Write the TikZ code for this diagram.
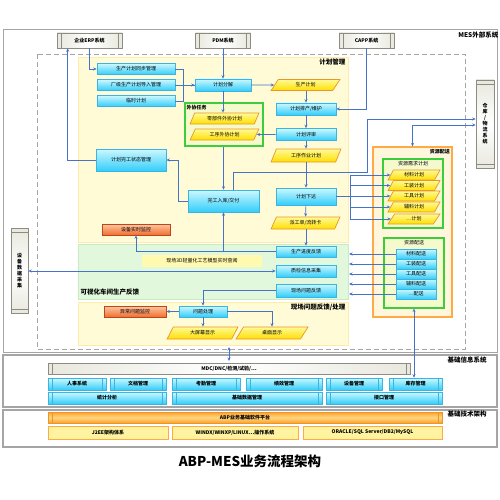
\documentclass[tikz,border=0pt]{standalone}
\usepackage{fontspec}
\setmainfont{Noto Sans CJK SC}
\usetikzlibrary{arrows.meta,shapes.geometric}
\definecolor{cyT}{RGB}{205,248,255}
\definecolor{cyB}{RGB}{50,205,250}
\definecolor{cyD}{RGB}{60,180,225}
\definecolor{ylT}{RGB}{255,250,150}
\definecolor{ylB}{RGB}{255,222,0}
\definecolor{orD}{RGB}{235,150,40}
\definecolor{ogT}{RGB}{255,200,160}
\definecolor{ogB}{RGB}{240,110,50}
\definecolor{ogD}{RGB}{190,70,30}
\definecolor{areaY}{RGB}{255,251,215}
\definecolor{areaYD}{RGB}{255,235,170}
\definecolor{areaG}{RGB}{226,248,220}
\definecolor{areaGD}{RGB}{200,235,195}
\definecolor{grn}{RGB}{60,205,60}
\definecolor{fY}{RGB}{245,250,205}
\definecolor{org}{RGB}{255,170,70}
\definecolor{fO}{RGB}{255,246,220}
\definecolor{arrc}{RGB}{70,115,200}
\definecolor{frm}{RGB}{165,165,165}
\definecolor{gryT}{RGB}{232,232,222}
\definecolor{gryD}{RGB}{140,140,130}
\definecolor{notec}{RGB}{255,250,175}
\definecolor{abpT}{RGB}{255,215,130}
\definecolor{abpB}{RGB}{255,160,40}
\definecolor{lyel}{RGB}{255,243,160}
\tikzset{
  txt/.style={font=\fontsize{5}{6}\selectfont},
  btxt/.style={font=\fontsize{5}{6}\selectfont\bfseries},
  cbox/.style={draw=cyD, line width=0.6pt, top color=cyT, bottom color=cyB, inner sep=0pt, txt},
  para/.style={trapezium, trapezium left angle=60, trapezium right angle=120, trapezium stretches=true,
    draw=orD, line width=0.7pt, top color=ylT, bottom color=ylB, inner sep=0pt, txt},
  obox/.style={draw=ogD, line width=0.7pt, top color=ogT, bottom color=ogB, inner sep=0pt, txt},
  hbars/.style={path picture={\draw[#1,line width=0.5pt]
     ([xshift=4pt]path picture bounding box.south west) -- ([xshift=4pt]path picture bounding box.north west)
     ([xshift=-4pt]path picture bounding box.south east) -- ([xshift=-4pt]path picture bounding box.north east);}},
  vbars/.style={path picture={\draw[#1,line width=0.5pt]
     ([yshift=4pt]path picture bounding box.south west) -- ([yshift=4pt]path picture bounding box.south east)
     ([yshift=-4pt]path picture bounding box.north west) -- ([yshift=-4pt]path picture bounding box.north east);}},
  ext/.style={draw=gryD, line width=0.6pt, shading=axis, left color=gryT, right color=gryT, middle color=white, inner sep=0pt, btxt, hbars=gryD},
  vext/.style={draw=gryD, line width=0.6pt, shading=axis, top color=gryT, bottom color=gryT, middle color=white, inner sep=0pt, btxt, vbars=gryD, align=center},
  bcy/.style={draw=cyD, line width=0.5pt, top color=cyT, bottom color=cyB, inner sep=0pt, btxt, hbars=cyD},
  yarea/.style={draw=areaYD, fill=areaY, line width=0.8pt, inner sep=0pt},
  garea/.style={draw=areaGD, fill=areaG, line width=0.8pt, inner sep=0pt},
  gframe/.style={draw=grn, fill=fY, line width=1.2pt, inner sep=0pt},
  oframe/.style={draw=org, fill=fO, line width=1.2pt, inner sep=0pt},
  lbl/.style={font=\fontsize{6.5}{7}\selectfont\bfseries, inner sep=0.5pt},
  arr/.style={draw=arrc, line width=0.6pt, -{Stealth[length=3.5pt,width=3pt]}},
  arr2/.style={draw=arrc, line width=0.6pt, {Stealth[length=3.5pt,width=3pt]}-{Stealth[length=3.5pt,width=3pt]}},
  ln/.style={draw=arrc, line width=0.6pt}
}
\begin{document}
\begin{tikzpicture}[x=1pt,y=-1pt]
\useasboundingbox (0,0) rectangle (500,500);
\fill[white] (0,0) rectangle (500,500);
% outer frames
\draw[frm, line width=0.8pt] (3,29) rectangle (497,352);
\draw[frm, line width=0.8pt, dashed, dash pattern=on 5pt off 3pt] (37,54) rectangle (465,349);
\node[lbl, anchor=east] (lmes) at (499,35) {MES外部系统};
% areas
\node[yarea, minimum width=270pt, minimum height=185pt] (planarea) at (213,149.5) {};
\node[garea, minimum width=270pt, minimum height=55pt] (visarea) at (213,271.5) {};
\node[yarea, minimum width=270pt, minimum height=43pt] (probarea) at (213,323.5) {};
\node[lbl, anchor=east] (lplan) at (346,62.5) {计划管理};
\node[lbl, anchor=west] (lvis) at (80,292) {可视化车间生产反馈};
\node[lbl, anchor=east] (lprob) at (346,307) {现场问题反馈/处理};
\node[gframe, minimum width=78pt, minimum height=43pt] (outframe) at (224,124.5) {};
\node[btxt, anchor=west, inner sep=0pt] (lout) at (186.5,107.5) {外协任务};
\node[oframe, minimum width=79pt, minimum height=170pt] (resframe) at (412.5,232) {};
\node[btxt, anchor=east, inner sep=0pt] (lres) at (450,152) {资源配送};
\node[gframe, minimum width=60pt, minimum height=69pt] (rpframe) at (413,193.5) {};
\node[txt, inner sep=0pt] (lrp) at (413,164) {资源需求计划};
\node[gframe, minimum width=60pt, minimum height=70pt] (rdframe) at (414,273) {};
\node[txt, inner sep=0pt] (lrd) at (414,243) {资源配送};
% external systems
\node[ext, minimum width=65pt, minimum height=15pt] (erp) at (89.5,40.5) {企业ERP系统};
\node[ext, minimum width=55pt, minimum height=15pt] (pdm) at (223,40.5) {PDM系统};
\node[ext, minimum width=55pt, minimum height=15pt] (capp) at (366.5,40.5) {CAPP系统};
\node[vext, minimum width=18pt, minimum height=88pt] (whs) at (485,124) {仓\\库\\/\\物\\流\\系\\统};
\node[vext, minimum width=17pt, minimum height=85pt] (dev) at (19.5,271) {设\\备\\数\\据\\采\\集};
% plan management
\node[cbox, minimum width=78pt, minimum height=11pt] (sync) at (136,69) {生产计划同步管理};
\node[cbox, minimum width=78pt, minimum height=11pt] (imp) at (136,85) {厂级生产计划导入管理};
\node[cbox, minimum width=78pt, minimum height=11pt] (tmp) at (136,101) {临时计划};
\node[cbox, minimum width=56pt, minimum height=12pt] (split) at (223,85) {计划分解};
\node[para, minimum width=69pt, minimum height=11pt] (pplan) at (305.5,85) {生产计划};
\node[cbox, minimum width=60pt, minimum height=12pt] (sched) at (306,109) {计划排产/维护};
\node[cbox, minimum width=60pt, minimum height=12pt] (review) at (306,134.5) {计划评审};
\node[para, minimum width=69pt, minimum height=11pt] (outA) at (224.5,118.5) {零部件外协计划};
\node[para, minimum width=69pt, minimum height=11pt] (outB) at (224.5,134.5) {工序外协计划};
\node[para, minimum width=70pt, minimum height=13pt] (opplan) at (306,155.5) {工序作业计划};
\node[cbox, minimum width=70pt, minimum height=22pt] (status) at (131,160) {计划完工状态管理};
\node[cbox, minimum width=71pt, minimum height=22pt] (store) at (223.5,201) {完工入库/交付};
\node[cbox, minimum width=60pt, minimum height=17pt] (issue) at (306,196.5) {计划下达};
\node[para, minimum width=69pt, minimum height=12pt] (dispatch) at (305.5,223) {派工单/流转卡};
\node[obox, minimum width=68pt, minimum height=11pt] (mon) at (136,229.5) {设备实时监控};
% resource plans
\node[para, minimum width=52pt, minimum height=10pt] (rp1) at (414,175) {材料计划};
\node[para, minimum width=52pt, minimum height=10pt] (rp2) at (414,185.5) {工装计划};
\node[para, minimum width=52pt, minimum height=10pt] (rp3) at (414,196) {工具计划};
\node[para, minimum width=52pt, minimum height=10pt] (rp4) at (414,207) {辅料计划};
\node[para, minimum width=52pt, minimum height=10pt] (rp5) at (414,219) {…计划};
\node[cbox, minimum width=40pt, minimum height=10pt] (rd1) at (416,254) {材料配送};
\node[cbox, minimum width=40pt, minimum height=10pt] (rd2) at (416,264) {工装配送};
\node[cbox, minimum width=40pt, minimum height=10pt] (rd3) at (416,274) {工具配送};
\node[cbox, minimum width=40pt, minimum height=10pt] (rd4) at (416,284) {辅料配送};
\node[cbox, minimum width=40pt, minimum height=10pt] (rd5) at (416,294) {…配送};
% visual feedback
\node[fill=notec, txt, minimum width=120pt, minimum height=12pt, inner sep=0pt] (note3d) at (202,261) {现场3D轻量化工艺模型实时查阅};
\node[cbox, minimum width=60pt, minimum height=11pt] (prog) at (306,251.5) {生产进度反馈};
\node[cbox, minimum width=60pt, minimum height=12pt] (qc) at (306,271) {质检信息采集};
\node[cbox, minimum width=60pt, minimum height=13pt] (fb) at (306,290.5) {现场问题反馈};
% problem handling
\node[obox, minimum width=62pt, minimum height=11pt] (warn) at (135,311.5) {异常问题监控};
\node[cbox, minimum width=48pt, minimum height=11pt] (handle) at (203,311.5) {问题处理};
\node[para, minimum width=71pt, minimum height=12pt] (big) at (202.5,333) {大屏幕显示};
\node[para, minimum width=72pt, minimum height=12pt] (desk) at (272,333) {桌面显示};
% bottom frames
\draw[frm, line width=1.2pt] (3,355) rectangle (497,407);
\draw[frm, line width=1.2pt] (3,410) rectangle (497,447);
\node[lbl, anchor=west] (linfo) at (447,360) {基础信息系统};
\node[lbl, anchor=west] (ltech) at (447,414) {基础技术架构};
\node[ext, minimum width=362pt, minimum height=11pt] (mdc) at (229,368.5) {MDC/DNC/检测/试验/…};
\node[bcy, minimum width=58pt, minimum height=12pt] (hr) at (77,384) {人事系统};
\node[bcy, minimum width=56pt, minimum height=12pt] (doc) at (138,384) {文档管理};
\node[bcy, minimum width=68pt, minimum height=12pt] (att) at (206,384) {考勤管理};
\node[bcy, minimum width=76pt, minimum height=12pt] (perf) at (284,384) {绩效管理};
\node[bcy, minimum width=56pt, minimum height=12pt] (eq) at (354,384) {设备管理};
\node[bcy, minimum width=53pt, minimum height=12pt] (kc) at (415.5,384) {库存管理};
\node[bcy, minimum width=118pt, minimum height=12pt] (stat) at (107,398) {统计分析};
\node[bcy, minimum width=150pt, minimum height=12pt] (basic) at (247,398) {基础数据管理};
\node[bcy, minimum width=116pt, minimum height=12pt] (intf) at (384,398) {接口管理};
\node[draw=orD, line width=0.5pt, top color=abpB, bottom color=abpB, middle color=abpT, shading=axis, inner sep=0pt, btxt, hbars=orD, minimum width=394pt, minimum height=11pt] (abp) at (245,417.5) {ABP业务基础软件平台};
\node[draw=org, line width=0.8pt, fill=lyel, btxt, inner sep=0pt, minimum width=120pt, minimum height=13pt] (j2ee) at (108,432.5) {J2EE架构体系};
\node[draw=org, line width=0.8pt, fill=lyel, btxt, inner sep=0pt, minimum width=126pt, minimum height=13pt] (os) at (235,432.5) {WINDX/WINXP/LINUX…操作系统};
\node[draw=org, line width=0.8pt, fill=lyel, btxt, inner sep=0pt, minimum width=139pt, minimum height=13pt] (db) at (372.5,432.5) {ORACLE/SQL Server/DB2/MySQL};
\node[font=\fontsize{13.5}{15}\selectfont\bfseries, inner sep=0pt] (title) at (250,461) {ABP-MES业务流程架构};
% connectors
\coordinate (gr) at (349,0);
\coordinate (bA) at (229,347);
\coordinate (bB) at (229,361);
\draw[arr] (erp.south) |- (sync.west);
\draw[arr] (status.west) -| ([xshift=11pt]erp.south west);
\draw[ln] (sync.east) -- ++(8,0) |- (split.west);
\draw[ln] (tmp.east) -- ++(8,0) |- (split.west);
\draw[arr] (imp.east) -- (split.west);
\draw[arr] (pdm.south) -- (split.north);
\draw[arr] (split.east) -- (pplan.west);
\draw[arr] (split.south) -- (split.south |- outA.north);
\draw[arr] (pplan.south -| sched.north) -- (sched.north);
\draw[arr] (capp.south) |- (sched.east);
\draw[arr] (sched) -- (review);
\draw[arr] (review.west) -- (outB.east);
\draw[arr] (review.south) -- (review.south |- opplan.north);
\draw[arr] (opplan.south -| issue.north) -- (issue.north);
\draw[arr] ([xshift=10pt]store.north) |- (367,172) |- ([yshift=5pt]whs.west);
\draw[arr2] ([yshift=-1pt]whs.west) -| (resframe.north);
\draw[arr] (outframe.south -| store.north) -- (store.north);
\draw[arr] (store.west) -- ++(-9,0) |- (status.east);
\draw[arr] (issue) -- (dispatch);
\draw[arr] (dispatch.south -| prog.north) -- (prog.north);
\draw[ln, line width=1pt] (issue.east) -- ++(14,0);
\foreach \r in {rp1,rp2,rp3,rp4,rp5}{\draw[arr] (issue.east) -- ++(14,0) |- (\r.west);}
\draw[arr] (prog.west) -| (mon.south);
\draw[arr] (prog.west -| store.south) -- (store.south);
\draw[arr2] (dev.east) -- (dev.east -| qc.west);
\draw[arr] (fb.west) -| (handle.north);
\draw[arr] (handle.west) -- (warn.east);
\draw[arr] (handle.south) -- (handle.south |- big.north);
\draw[arr] (handle.east) -| (desk.north);
\foreach \r in {rd1,rd2,rd3,rd4,rd5}{\draw[arr] (\r.west) -- (\r.west -| gr);}
\draw[arr2] (bA) -- (bB);
\draw[arr2] (rdframe.south) -- (rdframe.south |- kc.north);
\end{tikzpicture}
\end{document}
